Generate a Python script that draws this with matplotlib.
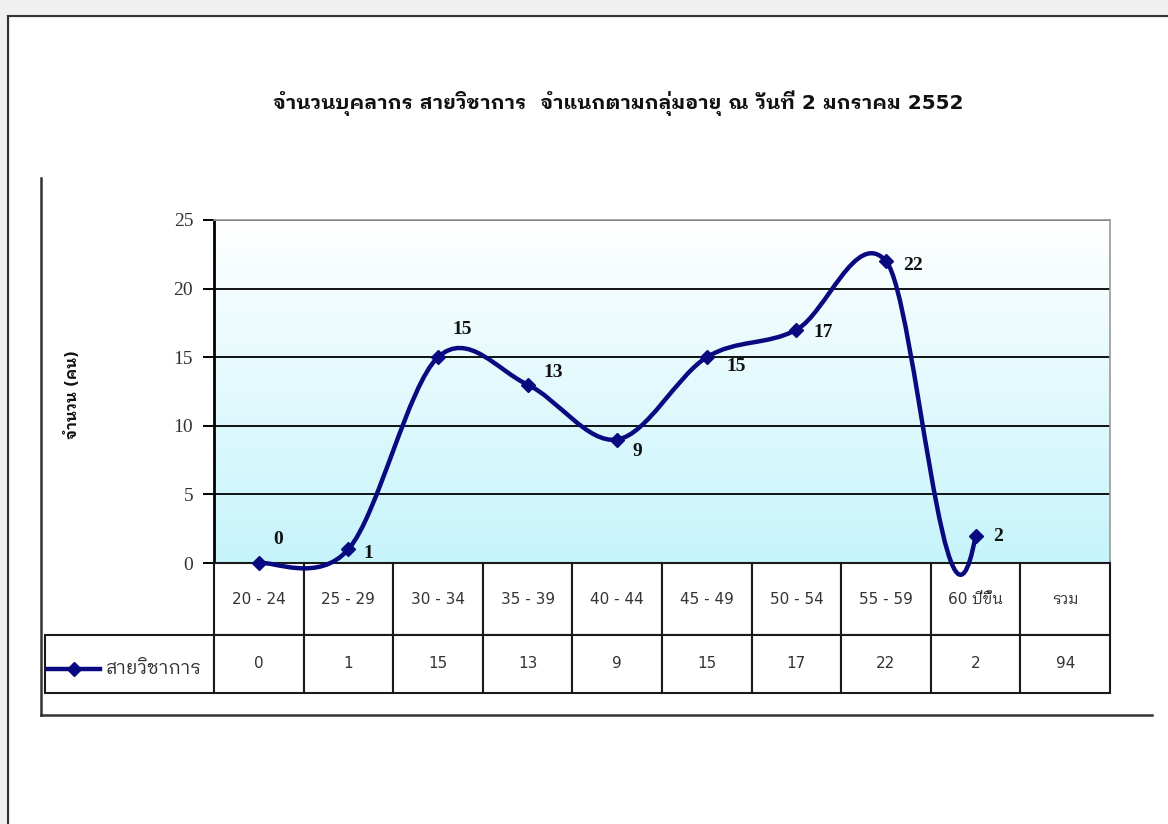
import numpy as np
import matplotlib
matplotlib.use("Agg")
import matplotlib.pyplot as plt
from matplotlib import font_manager
from matplotlib.ft2font import FT2Font
from matplotlib.path import Path
from matplotlib.patches import PathPatch, Rectangle
from matplotlib.colors import LinearSegmentedColormap
from matplotlib.lines import Line2D

title = "จำนวนบุคลากร สายวิชาการ  จำแนกตามกลุ่มอายุ ณ วันที่ 2 มกราคม 2552"
ylabel = "จำนวน (คน)"
series_name = "สายวิชาการ"
age_groups = ["20 - 24", "25 - 29", "30 - 34", "35 - 39", "40 - 44",
              "45 - 49", "50 - 54", "55 - 59", "60 ปีขึ้น", "รวม"]
# last value is the total, it sits in the table but its segment is hidden
staff = [0, 1, 15, 13, 9, 15, 17, 22, 2, 94]
yticks = [0, 5, 10, 15, 20, 25]

# label offsets in pixels (dx, dy) for each plotted point
label_offsets = [(19, 23), (20, -4), (24, 28), (26, 12), (20, -12),
                 (29, -9), (27, -3), (27, -4), (22, -1)]

NAVY = "#0a0a80"
W, H = 1168, 824


def find_thai_font():
    found = []
    for f in font_manager.fontManager.ttflist:
        try:
            if 0x0E08 in FT2Font(f.fname).get_charmap():
                found.append(f.name)
        except Exception:
            continue

    def rank(name):
        for i, key in enumerate(["Looped", "Garuda", "Loma", "Norasi", "Kinnari",
                                 "Tlwg", "Sarabun", "Sans"]):
            if key in name:
                return (i, name)
        return (99, name)

    found.sort(key=rank)
    return found[0] if found else None


def smooth_path(xs, ys, nseg):
    # excel-like smoothed line: cubic bezier segments with 1/6 tangents
    pts = np.column_stack([xs, ys]).astype(float)
    verts = [pts[0]]
    codes = [Path.MOVETO]
    for i in range(nseg):
        p0 = pts[max(i - 1, 0)]
        p1, p2 = pts[i], pts[i + 1]
        p3 = pts[min(i + 2, len(pts) - 1)]
        verts += [p1 + (p2 - p0) / 6, p2 - (p3 - p1) / 6, p2]
        codes += [Path.CURVE4] * 3
    return Path(verts, codes)


thai = find_thai_font()
fams = ["DejaVu Sans"] + ([thai] if thai else [])
plt.rcParams["font.family"] = fams
serif = ["Liberation Serif"] + ([thai] if thai else [])

fig = plt.figure(figsize=(W / 100, H / 100), dpi=100)
fig.patch.set_facecolor("white")


def fx(x):
    return x / W


def fy(y):
    return 1 - y / H


# window-ish frame around the sheet
fig.add_artist(Rectangle((0, fy(14)), 1, 14 / H, transform=fig.transFigure,
                         color="#f0f0f0", lw=0))
fig.add_artist(Rectangle((0, 0), fx(6), 1, transform=fig.transFigure,
                         color="#f0f0f0", lw=0))
fig.add_artist(Line2D([fx(8), 1], [fy(16), fy(16)], transform=fig.transFigure,
                      color="#333333", lw=1.6))
fig.add_artist(Line2D([fx(8), fx(8)], [0, fy(16)], transform=fig.transFigure,
                      color="#333333", lw=1.6))
# chart area edges
fig.add_artist(Line2D([fx(41), fx(41)], [fy(178), fy(715)], transform=fig.transFigure,
                      color="#333333", lw=1.8))
fig.add_artist(Line2D([fx(41), fx(1152)], [fy(715), fy(715)], transform=fig.transFigure,
                      color="#333333", lw=1.8))

ax = fig.add_axes([fx(214), fy(563), fx(1110) - fx(214), (563 - 220) / H])

n = len(age_groups)
x = np.arange(n)
ax.set_xlim(-0.5, n - 0.5)
ax.set_ylim(0, 25)

# plot area fill, white on top fading to pale cyan
cmap = LinearSegmentedColormap.from_list("bg", ["white", "#c6f4fb"])
grad = np.linspace(1, 0, 256)[:, None]
ax.imshow(grad, extent=(-0.5, n - 0.5, 0, 25), origin="lower", aspect="auto",
          cmap=cmap, zorder=0)

ax.set_yticks(yticks)
ax.set_xticks([])
ax.yaxis.grid(True, color="black", lw=1.3, zorder=1)
ax.set_axisbelow(True)
ax.tick_params(axis="y", length=8, width=1.4, pad=7, labelsize=14,
               labelcolor="#333333")
for lab in ax.get_yticklabels():
    lab.set_family(serif)
ax.spines["left"].set_linewidth(2)
ax.spines["bottom"].set_linewidth(1.3)
for s in ("top", "right"):
    ax.spines[s].set_color("#999999")
    ax.spines[s].set_linewidth(1.2)

npts = n - 1
path = smooth_path(x, staff, npts - 1)
ax.add_patch(PathPatch(path, fill=False, edgecolor=NAVY, lw=3.2,
                       zorder=12, clip_on=False, capstyle="round", joinstyle="round"))
ax.plot(x[:npts], staff[:npts], ls="none", marker="D", ms=7, color=NAVY,
        zorder=13, clip_on=False)

for i in range(npts):
    dx, dy = label_offsets[i]
    ax.annotate(str(staff[i]), (x[i], staff[i]), xytext=(dx, dy),
                textcoords="offset pixels", ha="center", va="center",
                fontsize=14, fontweight="bold", family="Liberation Serif",
                color="#111111", zorder=14, annotation_clip=False)

# data table under the plot
lw_col = 169 / 896
cell_text = [[""] + age_groups, [""] + [str(v) for v in staff]]
tbl = ax.table(cellText=cell_text, colWidths=[lw_col] + [1 / n] * n,
               cellLoc="center", bbox=[-lw_col, -130 / 343, 1 + lw_col, 130 / 343])
tbl.auto_set_font_size(False)
tbl.set_fontsize(11)
for (r, c), cell in tbl.get_celld().items():
    cell.set_height(72 if r == 0 else 58)
    cell.set_edgecolor("#1a1a1a")
    cell.set_linewidth(1.5)
    cell.get_text().set_color("#333333")
    if r == 0 and c == 0:
        cell.visible_edges = ""
tbl.set_zorder(3)

# legend key inside the row label cell
ky = -(669 - 563) / 343
ax.plot([(48 - 214) / 896, (74 - 214) / 896, (100 - 214) / 896], [ky] * 3,
        transform=ax.transAxes, color=NAVY, lw=3.2, marker="D", ms=7,
        markevery=[1], clip_on=False, zorder=13)
key_text = ax.text((106 - 214) / 896, ky, series_name, transform=ax.transAxes,
                   ha="left", va="center", fontsize=11, color="#333333", zorder=13)

title_text = fig.text(fx(618), fy(103), title, ha="center", va="center",
                      fontsize=14, fontweight="bold", color="#111111")
fig.text(fx(72), fy(395), ylabel, ha="center", va="center", rotation=90,
         fontsize=11, fontweight="bold", color="#111111")

# size the title and the key text to their widths on the sheet
fig.canvas.draw()
for t, target in ((title_text, 693), (key_text, 96)):
    w = t.get_window_extent().width
    t.set_fontsize(t.get_fontsize() * target / w)

fig.savefig("out.png", dpi=100)
